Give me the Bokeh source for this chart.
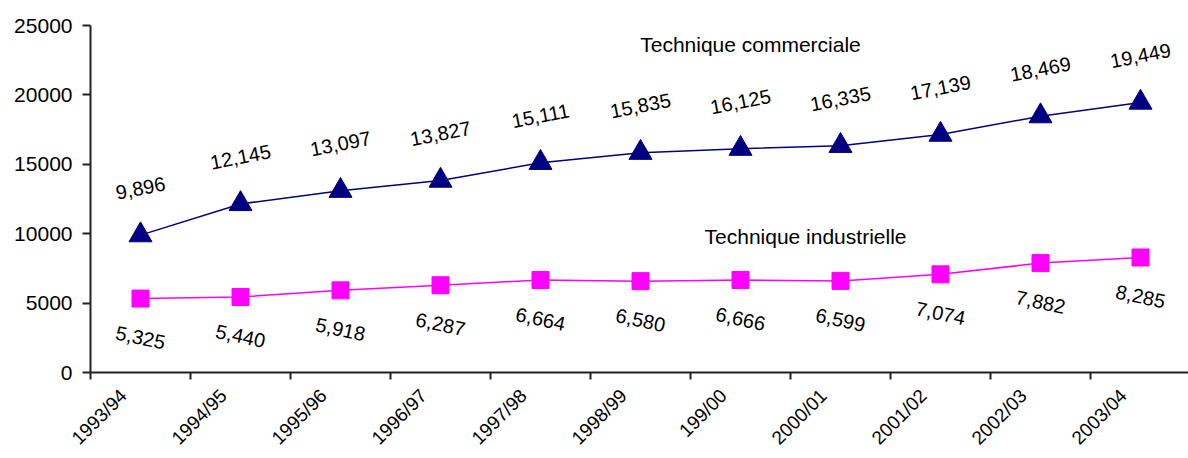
import math
from bokeh.plotting import figure
from bokeh.models import Range1d, FixedTicker, ColumnDataSource, LabelSet, Label
from bokeh.core.properties import value
from bokeh.embed import file_html
from bokeh.resources import INLINE

years = ["1993/94", "1994/95", "1995/96", "1996/97", "1997/98", "1998/99",
         "199/00", "2000/01", "2001/02", "2002/03", "2003/04"]
commerciale = [9896, 12145, 13097, 13827, 15111, 15835, 16125, 16335, 17139, 18469, 19449]
industrielle = [5325, 5440, 5918, 6287, 6664, 6580, 6666, 6599, 7074, 7882, 8285]
y_ticks = [0, 5000, 10000, 15000, 20000, 25000]

FONT = "Liberation Sans"
NAVY = "#000080"
MAGENTA = "#FF00FF"
LABEL_SHIFT = -0.17  # rotated category labels sit slightly left of the category centre

xs = list(range(len(years)))
label_ticks = [i + LABEL_SHIFT for i in xs]

p = figure(width=1188, height=458,
           x_range=Range1d(-0.5, 10.48), y_range=Range1d(0, 25000),
           output_backend="svg", toolbar_location=None,
           min_border_left=90, min_border_right=0, min_border_top=25, min_border_bottom=85)
p.outline_line_color = None
p.grid.visible = False
p.background_fill_color = "white"

# x axis: tick marks at category boundaries (minor), names at the categories
p.xaxis.ticker = FixedTicker(ticks=label_ticks, minor_ticks=[i - 0.5 for i in range(len(years) + 1)])
p.xaxis.major_label_overrides = {t: y for t, y in zip(label_ticks, years)}
p.xaxis.major_tick_out = 0
p.xaxis.major_tick_in = 0
p.xaxis.minor_tick_out = 7
p.xaxis.minor_tick_in = 0
p.xaxis.minor_tick_line_color = "#222222"
p.xaxis.minor_tick_line_width = 2
p.xaxis.axis_line_color = "#222222"
p.xaxis.axis_line_width = 2
p.xaxis.major_label_orientation = math.pi / 4
p.xaxis.major_label_standoff = 13
p.xaxis.major_label_text_font = FONT
p.xaxis.major_label_text_font_size = "19px"
p.xaxis.major_label_text_color = "black"

# y axis
p.yaxis.ticker = FixedTicker(ticks=y_ticks)
p.yaxis.minor_tick_line_color = None
p.yaxis.major_tick_out = 8
p.yaxis.major_tick_in = 0
p.yaxis.major_tick_line_color = "#222222"
p.yaxis.major_tick_line_width = 2
p.yaxis.axis_line_color = "#222222"
p.yaxis.axis_line_width = 2
p.yaxis.major_label_standoff = 10
p.yaxis.major_label_text_font = FONT
p.yaxis.major_label_text_font_size = "21px"
p.yaxis.major_label_text_color = "black"

src_c = ColumnDataSource(dict(x=xs, y=commerciale, t=[f"{v:,}" for v in commerciale]))
src_i = ColumnDataSource(dict(x=xs, y=industrielle, t=[f"{v:,}" for v in industrielle]))

p.line("x", "y", source=src_c, line_color=NAVY, line_width=1.5)
p.scatter("x", "y", source=src_c, marker="triangle", size=23, fill_color=NAVY, line_color=NAVY)
p.line("x", "y", source=src_i, line_color=MAGENTA, line_width=1.5)
p.scatter("x", "y", source=src_i, marker="square", size=17, fill_color=MAGENTA, line_color=MAGENTA)

p.add_layout(LabelSet(x="x", y="y", text="t", source=src_c, y_offset=47,
                      angle=math.radians(11), text_align="center", text_baseline="middle",
                      text_font=value(FONT), text_font_size=value("20px"), text_color="black"))
p.add_layout(LabelSet(x="x", y="y", text="t", source=src_i, y_offset=-39,
                      angle=math.radians(-12), text_align="center", text_baseline="middle",
                      text_font=value(FONT), text_font_size=value("20px"), text_color="black"))

p.add_layout(Label(x=6.1, y=23635, text="Technique commerciale", text_align="center",
                   text_baseline="middle", text_font=FONT, text_font_size="21px", text_color="black"))
p.add_layout(Label(x=6.65, y=9770, text="Technique industrielle", text_align="center",
                   text_baseline="middle", text_font=FONT, text_font_size="21px", text_color="black"))

open("out.html", "w").write(file_html(p, INLINE))
